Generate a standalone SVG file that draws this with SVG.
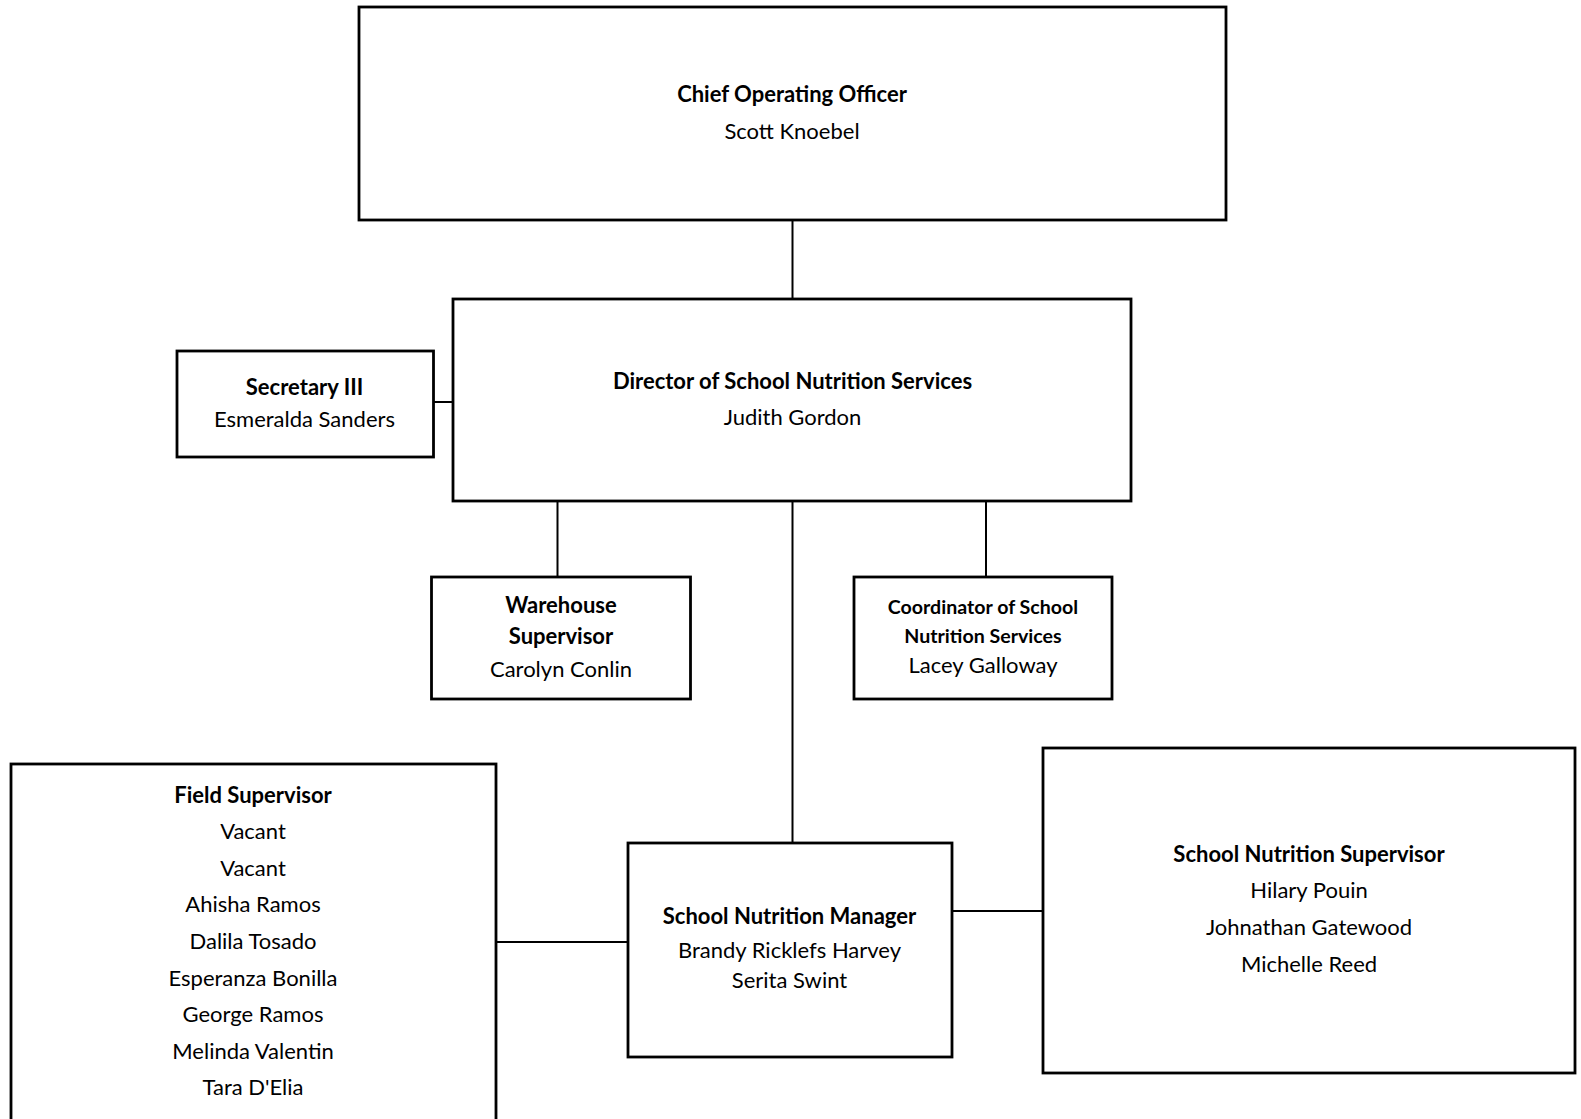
<svg xmlns="http://www.w3.org/2000/svg" width="1581" height="1119" viewBox="0 0 1581 1119">
<style>
.box{fill:#fff;stroke:#000;stroke-width:2.8}
.ln{stroke:#000;stroke-width:2;fill:none}
text{font-family:Lato,"Noto Sans",sans-serif;font-size:22px;fill:#000;text-anchor:middle}
.t{font-weight:bold}
.s{font-size:19.6px;font-weight:bold}
</style>
<rect width="1581" height="1119" fill="#fff"/>
<g id="connectors">
<path class="ln" d="M792.5 220V300"/>
<path class="ln" d="M433.5 402H453"/>
<path class="ln" d="M557.5 501V577"/>
<path class="ln" d="M986 501V577"/>
<path class="ln" d="M792.5 501V843"/>
<path class="ln" d="M496 942H628"/>
<path class="ln" d="M952 911H1043"/>
</g>
<g id="coo">
<rect class="box" x="359" y="7" width="867" height="213"/>
<text class="t" x="792" y="101.5">Chief Operating Officer</text>
<text x="792" y="139">Scott Knoebel</text>
</g>
<g id="director">
<rect class="box" x="453" y="299" width="678" height="202"/>
<text class="t" x="792.5" y="389">Director of School Nutrition Services</text>
<text x="792.5" y="424.5">Judith Gordon</text>
</g>
<g id="secretary">
<rect class="box" x="177" y="351" width="256.5" height="106"/>
<text class="t" x="304.5" y="395">Secretary III</text>
<text x="304.5" y="426.5">Esmeralda Sanders</text>
</g>
<g id="warehouse">
<rect class="box" x="431.5" y="577" width="259" height="122"/>
<text class="t" x="561" y="612.5">Warehouse</text>
<text class="t" x="561" y="644">Supervisor</text>
<text x="561" y="676.5">Carolyn Conlin</text>
</g>
<g id="coordinator">
<rect class="box" x="854" y="577" width="258" height="122"/>
<text class="s" x="983" y="614">Coordinator of School</text>
<text class="s" x="983" y="643">Nutrition Services</text>
<text x="983" y="672.5">Lacey Galloway</text>
</g>
<g id="field">
<rect class="box" x="11" y="764" width="485" height="370"/>
<text class="t" x="253" y="802.5">Field Supervisor</text>
<text x="253" y="839.2">Vacant</text>
<text x="253" y="875.8">Vacant</text>
<text x="253" y="912.4">Ahisha Ramos</text>
<text x="253" y="949">Dalila Tosado</text>
<text x="253" y="985.6">Esperanza Bonilla</text>
<text x="253" y="1022.2">George Ramos</text>
<text x="253" y="1058.8">Melinda Valentin</text>
<text x="253" y="1095.4">Tara D'Elia</text>
</g>
<g id="manager">
<rect class="box" x="628" y="843" width="324" height="214"/>
<text class="t" x="789.5" y="924.3">School Nutrition Manager</text>
<text x="789.5" y="958.3">Brandy Ricklefs Harvey</text>
<text x="789.5" y="988.3">Serita Swint</text>
</g>
<g id="sns">
<rect class="box" x="1043" y="748" width="532" height="325"/>
<text class="t" x="1309" y="861.7">School Nutrition Supervisor</text>
<text x="1309" y="898.3">Hilary Pouin</text>
<text x="1309" y="935">Johnathan Gatewood</text>
<text x="1309" y="971.7">Michelle Reed</text>
</g>
</svg>
